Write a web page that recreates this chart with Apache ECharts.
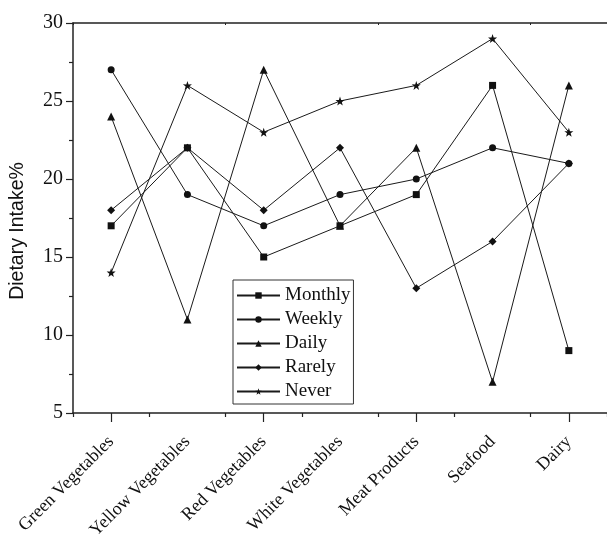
<!DOCTYPE html>
<html>
<head>
<meta charset="utf-8">
<script src="https://cdn.jsdelivr.net/npm/echarts@6/dist/echarts.min.js"></script>
<style>
html,body{margin:0;padding:0;background:#fff;}
#chart{width:607px;height:545px;}
</style>
</head>
<body>
<div id="chart"></div>
<script>
const categories = ['Green Vegetables','Yellow Vegetables','Red Vegetables','White Vegetables','Meat Products','Seafood','Dairy'];
const seriesNames = ['Monthly','Weekly','Daily','Rarely','Never'];
const monthly = [17, 22, 15, 17, 19, 26, 9];
const weekly  = [27, 19, 17, 19, 20, 22, 21];
const daily   = [24, 11, 27, 17, 22, 7, 26];
const rarely  = [18, 22, 18, 22, 13, 16, 21];
const never   = [14, 26, 23, 25, 26, 29, 23];
const yTicks = [5, 10, 15, 20, 25, 30];

const STAR = 'path://M50,0 L61.8,35.1 L97.6,34.5 L69.1,56.7 L79.4,90.5 L50,70 L20.6,90.5 L30.9,56.7 L2.4,34.5 L38.2,35.1 Z';
const dataSets = [monthly, weekly, daily, rarely, never];
const symbols = ['rect','circle','triangle','diamond', STAR];
const sizes = [7, 7, 8, 8, 9];

const chart = echarts.init(document.getElementById('chart'), null, {renderer:'canvas'});
const axisColor = '#222';
const serif = '"Liberation Serif", "Times New Roman", serif';

chart.setOption({
  animation: false,
  backgroundColor: '#fff',
  grid: {left: 72, right: -1, top: 23, bottom: 132, show: false},
  legend: {
    orient: 'vertical', left: 233, top: 280,
    data: seriesNames,
    borderColor: '#333', borderWidth: 1,
    padding: [6, 3, 3, 3],
    itemWidth: 43, itemHeight: 8, itemGap: 5,
    textStyle: {fontFamily: serif, fontSize: 19, color: '#111'}
  },
  xAxis: [{
    type: 'category', data: categories, boundaryGap: true, position: 'bottom',
    axisLine: {lineStyle: {color: axisColor, width: 1.5}},
    axisTick: {show: true, length: 4, inside: false, lineStyle: {color: axisColor, width: 1.2}},
    axisLabel: {rotate: 45, margin: 26, fontFamily: serif, fontSize: 18, color: '#111', interval: 0}
  }, {
    type: 'category', data: categories, boundaryGap: true, position: 'bottom',
    axisLine: {show: false},
    axisTick: {show: true, alignWithLabel: true, length: 9, lineStyle: {color: axisColor, width: 1.2}},
    axisLabel: {show: false}
  }, {
    type: 'category', data: categories, boundaryGap: true, position: 'top',
    axisLine: {show: true, lineStyle: {color: axisColor, width: 1.5}},
    axisTick: {show: true, inside: true, length: 2, lineStyle: {color: axisColor, width: 1}},
    axisLabel: {show: false}
  }],
  yAxis: {
    type: 'value', min: yTicks[0], max: yTicks[yTicks.length-1], interval: 5,
    name: 'Dietary Intake%', nameLocation: 'middle', nameGap: 45,
    nameTextStyle: {fontFamily: '"Liberation Sans", Arial, sans-serif', fontSize: 19.5, color: '#111', padding: [0, 26, 0, 0]},
    axisLine: {show: true, lineStyle: {color: axisColor, width: 1.5}},
    axisTick: {show: true, length: 7, lineStyle: {color: axisColor, width: 1.2}},
    minorTick: {show: true, splitNumber: 2, length: 4, lineStyle: {color: axisColor, width: 1.2}},
    splitLine: {show: false},
    axisLabel: {fontFamily: serif, fontSize: 20, color: '#111', margin: 10}
  },
  series: seriesNames.map((n, i) => ({
    name: n, type: 'line', data: dataSets[i], xAxisIndex: 0,
    symbol: symbols[i], symbolSize: sizes[i],
    lineStyle: {color: '#1a1a1a', width: 1},
    itemStyle: {color: '#111'},
    emphasis: {disabled: true}
  }))
});
</script>
</body>
</html>
